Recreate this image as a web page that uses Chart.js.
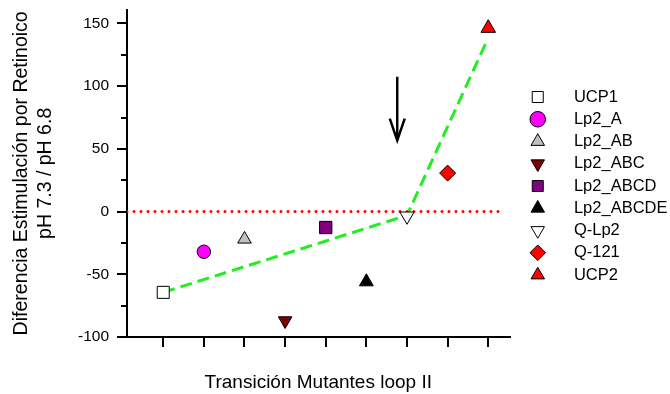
<!DOCTYPE html>
<html>
<head>
<meta charset="utf-8">
<script src="https://cdn.jsdelivr.net/npm/chart.js@4"></script>
<style>
  html, body { margin: 0; padding: 0; background: #fff; }
  #chart { display: block; }
</style>
</head>
<body>
<canvas id="chart" width="670" height="394"></canvas>
<script>
// mutantes y valores (diferencia pH 7.3 / pH 6.8)
const mutants = ['UCP1', 'Lp2_A', 'Lp2_AB', 'Lp2_ABC', 'Lp2_ABCD', 'Lp2_ABCDE', 'Q-Lp2', 'Q-121', 'UCP2'];
const xPos = [1, 2, 3, 4, 5, 6, 7, 8, 9];
const values = [-64.4, -32, -22, -87, -12.7, -56, -3.6, 30.7, 146.3];

// estilo de cada marcador
const markerStyle = ['rect', 'circle', 'triangle', 'triangle', 'rect', 'triangle', 'triangle', 'rectRot', 'triangle'];
const markerRotation = [0, 0, 0, 180, 0, 0, 180, 0, 0];
const markerFill = ['#ffffff', '#ff00ff', '#c0c0c0', '#800000', '#800080', '#000000', '#ffffff', '#ff0000', '#ff0000'];
const markerRadius = [8.5, 6.7, 7.8, 7.8, 8.7, 8, 8.2, 8, 8.4];

// linea de tendencia (verde)
const trendX = [1, 7, 8.95];
const trendY = [-64.4, -3, 135];

// linea de cero (roja punteada)
const zeroX = [0.108, 9.32];
const zeroY = [0, 0];

// flecha
const arrowShaftX = [6.76, 6.76];
const arrowShaftY = [107.6, 57.5];
const arrowHeadX = [6.576, 6.76, 6.944];
const arrowHeadY = [74.2, 56.7, 74.2];

// ejes
const xTicks = [1, 2, 3, 4, 5, 6, 7, 8, 9];
const yTicks = [-100, -50, 0, 50, 100, 150];
const yMinorTicks = [-75, -25, 25, 75, 125];

const FONT = '"Liberation Sans", Arial, sans-serif';
const pts = (xs, ys) => xs.map((x, i) => ({ x: x, y: ys[i] }));

const markerSets = mutants.map((name, i) => ({
    label: name,
    data: [{ x: xPos[i], y: values[i] }],
    pointStyle: markerStyle[i],
    rotation: markerRotation[i],
    pointRadius: markerRadius[i],
    backgroundColor: markerFill[i],
    borderColor: '#000',
    borderWidth: 1
}));

function lineSet(data, color, width, dash, cap) {
    return {
        data: data,
        showLine: true,
        pointRadius: 0,
        borderColor: color,
        borderWidth: width,
        borderDash: dash,
        borderCapStyle: cap || 'butt',
        fill: false
    };
}

const minorTicks = {
    id: 'minorTicks',
    afterDraw(chart) {
        const ctx = chart.ctx;
        const y = chart.scales.y;
        const left = chart.chartArea.left;
        ctx.save();
        ctx.strokeStyle = '#000';
        ctx.lineWidth = 2;
        yMinorTicks.forEach(v => {
            const py = Math.round(y.getPixelForValue(v));
            ctx.beginPath();
            ctx.moveTo(left - 6, py);
            ctx.lineTo(left, py);
            ctx.stroke();
        });
        ctx.restore();
    }
};

// coloca la leyenda donde esta en la figura
const legendPlace = {
    id: 'legendPlace',
    afterLayout(chart) {
        const lg = chart.legend;
        lg.left = 527;
        lg.right = 670;
        lg.width = 143;
        lg.top = 83;
    }
};

new Chart(document.getElementById('chart'), {
    type: 'scatter',
    data: {
        datasets: markerSets.concat([
            lineSet(pts(arrowShaftX, arrowShaftY), '#000', 2.5, []),
            lineSet(pts(arrowHeadX, arrowHeadY), '#000', 2.5, []),
            lineSet(pts(zeroX, zeroY), '#ff0000', 3, [0, 7], 'round'),
            lineSet(pts(trendX, trendY), '#22ee22', 3, [12, 6])
        ])
    },
    plugins: [minorTicks, legendPlace],
    options: {
        responsive: false,
        animation: false,
        layout: { padding: { top: 9, right: 10, bottom: 0, left: 0 } },
        scales: {
            x: {
                type: 'linear',
                min: 0.108,
                max: 9.524,
                afterBuildTicks: s => { s.ticks = xTicks.map(v => ({ value: v })); },
                afterFit: s => { s.height = 57; s.paddingLeft = 0; s.paddingRight = 0; },
                ticks: { display: false },
                grid: { drawOnChartArea: false, drawTicks: true, tickLength: 10, color: '#000', lineWidth: 2 },
                border: { display: true, color: '#000', width: 2 },
                title: {
                    display: true,
                    text: 'Transición Mutantes loop II',
                    color: '#000',
                    font: { family: FONT, size: 19 },
                    padding: { top: 0, bottom: 0 }
                }
            },
            y: {
                min: -100,
                max: 161,
                afterBuildTicks: s => { s.ticks = yTicks.map(v => ({ value: v })); },
                afterFit: s => { s.width = 127; s.paddingTop = 0; s.paddingBottom = 0; },
                ticks: { color: '#000', padding: 8, font: { family: FONT, size: 15.5 } },
                grid: { drawOnChartArea: false, drawTicks: true, tickLength: 10, color: '#000', lineWidth: 2 },
                border: { display: true, color: '#000', width: 2 },
                title: {
                    display: true,
                    text: ['Diferencia Estimulación por Retinoico', 'pH 7.3 / pH 6.8'],
                    color: '#000',
                    font: { family: FONT, size: 19.5 },
                    padding: { top: 10.3, bottom: 0 }
                }
            }
        },
        plugins: {
            tooltip: { enabled: false },
            legend: {
                position: 'right',
                align: 'start',
                labels: {
                    usePointStyle: true,
                    boxWidth: 10,
                    boxHeight: 11,
                    padding: 5.75,
                    color: '#000',
                    font: { family: FONT, size: 16.5 },
                    generateLabels: chart => Chart.defaults.plugins.legend.labels.generateLabels(chart)
                        .filter(l => l.datasetIndex < mutants.length)
                        .map(l => Object.assign(l, { text: '     ' + l.text }))
                }
            }
        }
    }
});
</script>
</body>
</html>
